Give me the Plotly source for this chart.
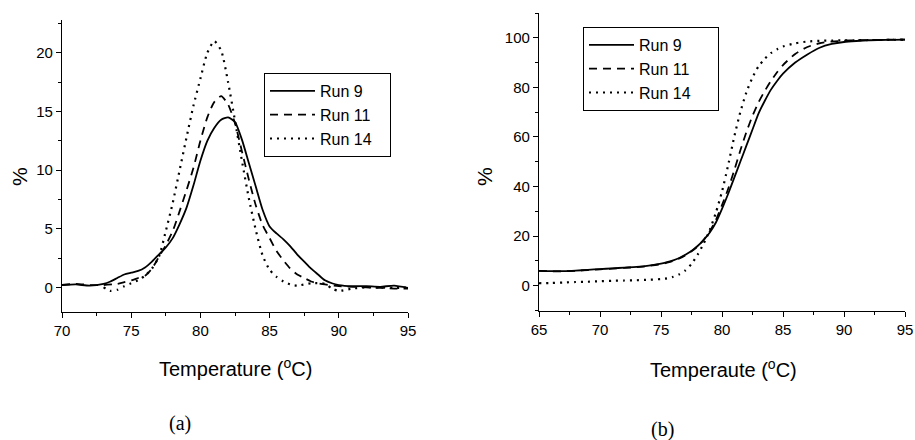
import plotly.graph_objects as go

# ---------------- Data: panel (a) derivative melting curves ----------------
temp_a_run9 = [70, 71, 72, 73, 73.5, 74, 74.5, 75, 75.5, 76, 76.5, 77, 77.5, 78, 78.5, 79, 79.5,
               80, 80.5, 81, 81.5, 82, 82.5, 83, 83.5, 84, 84.5, 85, 85.5, 86, 86.5, 87, 87.5,
               88, 88.5, 89, 89.5, 90, 91, 92, 93, 94, 95]
pct_a_run9 = [0.2, 0.25, 0.15, 0.3, 0.5, 0.8, 1.1, 1.25, 1.4, 1.7, 2.2, 2.8, 3.4, 4.2, 5.4, 6.8, 8.7,
              10.8, 12.5, 13.6, 14.3, 14.5, 14.1, 12.6, 10.6, 8.6, 6.6, 5.2, 4.6, 4.1, 3.5, 2.8, 2.2,
              1.6, 1.1, 0.6, 0.35, 0.2, 0.1, 0.1, 0.05, 0.15, -0.05]

temp_a_run11 = [70, 71, 72, 73, 74, 74.5, 75, 75.5, 76, 76.5, 77, 77.5, 78, 78.5, 79, 79.5,
                80, 80.5, 81, 81.5, 82, 82.5, 83, 83.5, 84, 84.5, 85, 85.5, 86, 86.5, 87, 87.5,
                88, 88.5, 89, 90, 91, 92, 93, 94, 95]
pct_a_run11 = [0.2, 0.3, 0.2, 0.2, 0.3, 0.45, 0.6, 0.8, 1.0, 1.6, 2.6, 3.6, 4.8, 6.5, 8.3, 10.2,
               12.5, 14.5, 15.8, 16.3, 15.6, 14.0, 11.6, 9.2, 7.0, 5.3, 4.2, 3.1, 2.3, 1.6, 1.1, 0.8,
               0.5, 0.35, 0.25, 0.1, 0.05, 0.0, -0.05, -0.1, -0.1]

temp_a_run14 = [73, 73.5, 74, 74.5, 75, 75.5, 76, 76.5, 77, 77.5, 78, 78.5, 79, 79.5, 80, 80.5,
                81, 81.5, 82, 82.5, 83, 83.5, 84, 84.5, 85, 85.5, 86, 86.5, 87, 88, 89, 89.5,
                90, 91, 92, 93, 94, 95]
pct_a_run14 = [0.0, -0.3, -0.2, 0.1, 0.35, 0.6, 1.0, 1.6, 2.6, 4.8, 7.2, 10.0, 12.8, 15.5, 17.8, 20.0,
               21.0, 20.2, 17.5, 14.2, 10.8, 7.6, 4.9, 2.7, 1.5, 0.9, 0.5, 0.25, 0.15, 0.35, 0.3, -0.1,
               -0.3, -0.1, 0.0, 0.0, -0.05, 0.0]

# ---------------- Data: panel (b) cumulative melting curves ----------------
temp_b = [65, 66, 67, 68, 69, 70, 71, 72, 73, 74, 75, 75.5, 76, 76.5, 77, 77.5, 78, 78.5, 79, 79.5,
          80, 80.5, 81, 81.5, 82, 82.5, 83, 83.5, 84, 84.5, 85, 86, 87, 88, 89, 90, 91, 92, 93, 94, 95]
pct_b_run9 = [6.0, 5.9, 5.9, 6.1, 6.4, 6.7, 7.0, 7.3, 7.6, 8.1, 8.9, 9.5, 10.2, 11.2, 12.5, 14.0, 16.0, 18.5, 21.5, 25.5,
              31.0, 37.0, 43.5, 50.0, 56.5, 63.0, 69.5, 74.5, 79.0, 82.5, 85.5, 90.0, 93.3, 96.0, 97.5, 98.3, 98.7, 99.0, 99.1, 99.2, 99.3]
pct_b_run11 = [6.0, 5.8, 5.8, 6.0, 6.3, 6.6, 6.9, 7.2, 7.5, 8.0, 8.7, 9.3, 10.0, 11.0, 12.3, 13.9, 15.8, 18.5, 22.0, 26.5,
               32.5, 39.0, 46.5, 54.5, 62.0, 68.5, 74.0, 78.5, 82.5, 86.0, 89.0, 93.5, 96.3, 97.8, 98.5, 98.8, 99.0, 99.1, 99.2, 99.3, 99.3]
pct_b_run14 = [1.0, 1.1, 1.3, 1.5, 1.6, 1.8, 2.0, 2.1, 2.2, 2.4, 2.7, 3.0, 3.6, 4.6, 6.2, 8.8, 12.5, 17.0, 22.5, 29.5,
               38.0, 48.5, 60.0, 70.0, 78.0, 84.0, 88.5, 91.5, 93.8, 95.3, 96.5, 97.8, 98.5, 98.8, 98.9, 99.0, 99.0, 99.1, 99.1, 99.2, 99.2]

series_names = ["Run 9", "Run 11", "Run 14"]
x_title_a = "Temperature (<sup>o</sup>C)"
x_title_b = "Temperaute (<sup>o</sup>C)"

FONT = "Liberation Sans, Arial, Helvetica, sans-serif"
styles = [dict(color="black", width=1.8, dash="solid"),
          dict(color="black", width=1.8, dash="8px,6px"),
          dict(color="black", width=2.2, dash="2px,5px")]

NBSP = "\u00a0"
fig = go.Figure()
panel_a = [(temp_a_run9, pct_a_run9), (temp_a_run11, pct_a_run11), (temp_a_run14, pct_a_run14)]
for (xs, ys), name, st in zip(panel_a, series_names, styles):
    fig.add_trace(go.Scatter(x=xs, y=ys, mode="lines", name=name + NBSP * 3,
                             line=dict(shape="spline", smoothing=0.6, **st),
                             xaxis="x", yaxis="y", legend="legend"))
for ys, name, st in zip([pct_b_run9, pct_b_run11, pct_b_run14], series_names, styles):
    fig.add_trace(go.Scatter(x=temp_b, y=ys, mode="lines", name=name + NBSP * 5,
                             line=dict(shape="spline", smoothing=0.6, **st),
                             xaxis="x2", yaxis="y2", legend="legend2"))

W, H = 915, 440
def px(x):
    return x / W
def py(y):
    return 1 - y / H

axis_common = dict(showline=True, linecolor="black", linewidth=1.3, ticks="outside", ticklen=5,
                   tickwidth=1.3, tickcolor="black", showgrid=False, zeroline=False, mirror=False,
                   automargin=False,
                   tickfont=dict(family=FONT, size=15, color="black"))
def minor(d):
    return dict(ticks="outside", ticklen=3, tickwidth=1, tickcolor="black", dtick=d, tick0=0)

legend_common = dict(bordercolor="black", borderwidth=1, bgcolor="white",
                     font=dict(family=FONT, size=16, color="black"),
                     xanchor="left", yanchor="top", tracegroupgap=0, itemwidth=45)

fig.update_layout(
    template="none",
    width=W, height=H, margin=dict(l=0, r=0, t=0, b=0, pad=0, autoexpand=False), autosize=False,
    paper_bgcolor="white", plot_bgcolor="white",
    xaxis=dict(domain=[px(62), px(408)], range=[70, 95], tickvals=[70, 75, 80, 85, 90, 95],
               minor=minor(2.5), anchor="y", **axis_common),
    yaxis=dict(domain=[py(312), py(20)], range=[-2.1, 22.8], tickvals=[0, 5, 10, 15, 20],
               minor=minor(2.5), anchor="x", **axis_common),
    xaxis2=dict(domain=[px(539), px(905)], range=[65, 95], tickvals=[65, 70, 75, 80, 85, 90, 95],
                minor=minor(2.5), anchor="y2", **axis_common),
    yaxis2=dict(domain=[py(311), py(13)], range=[-10.2, 110], tickvals=[0, 20, 40, 60, 80, 100],
                minor=minor(10), anchor="x2", **axis_common),
    legend=dict(x=px(264), y=py(73), **legend_common),
    legend2=dict(x=px(583), y=py(27), **legend_common),
    showlegend=True,
)

annots = [
    dict(text="%", x=px(19), y=py(177), textangle=-90, font=dict(family=FONT, size=21)),
    dict(text="%", x=px(484), y=py(177), textangle=-90, font=dict(family=FONT, size=21)),
    dict(text=x_title_a, x=px(236), y=py(367), font=dict(family=FONT, size=20)),
    dict(text=x_title_b, x=px(723), y=py(368), font=dict(family=FONT, size=20)),
    dict(text="(a)", x=px(180), y=py(423), font=dict(family="Liberation Serif, Times New Roman, serif", size=20)),
    dict(text="(b)", x=px(662), y=py(429), font=dict(family="Liberation Serif, Times New Roman, serif", size=20)),
]
for a in annots:
    a.update(xref="paper", yref="paper", showarrow=False, xanchor="center", yanchor="middle")
    a["font"]["color"] = "black"
    fig.add_annotation(**a)

fig.write_html("out.html", config={"responsive": False, "displayModeBar": False},
               post_script="document.body.style.margin='0';document.body.style.overflow='hidden';")
